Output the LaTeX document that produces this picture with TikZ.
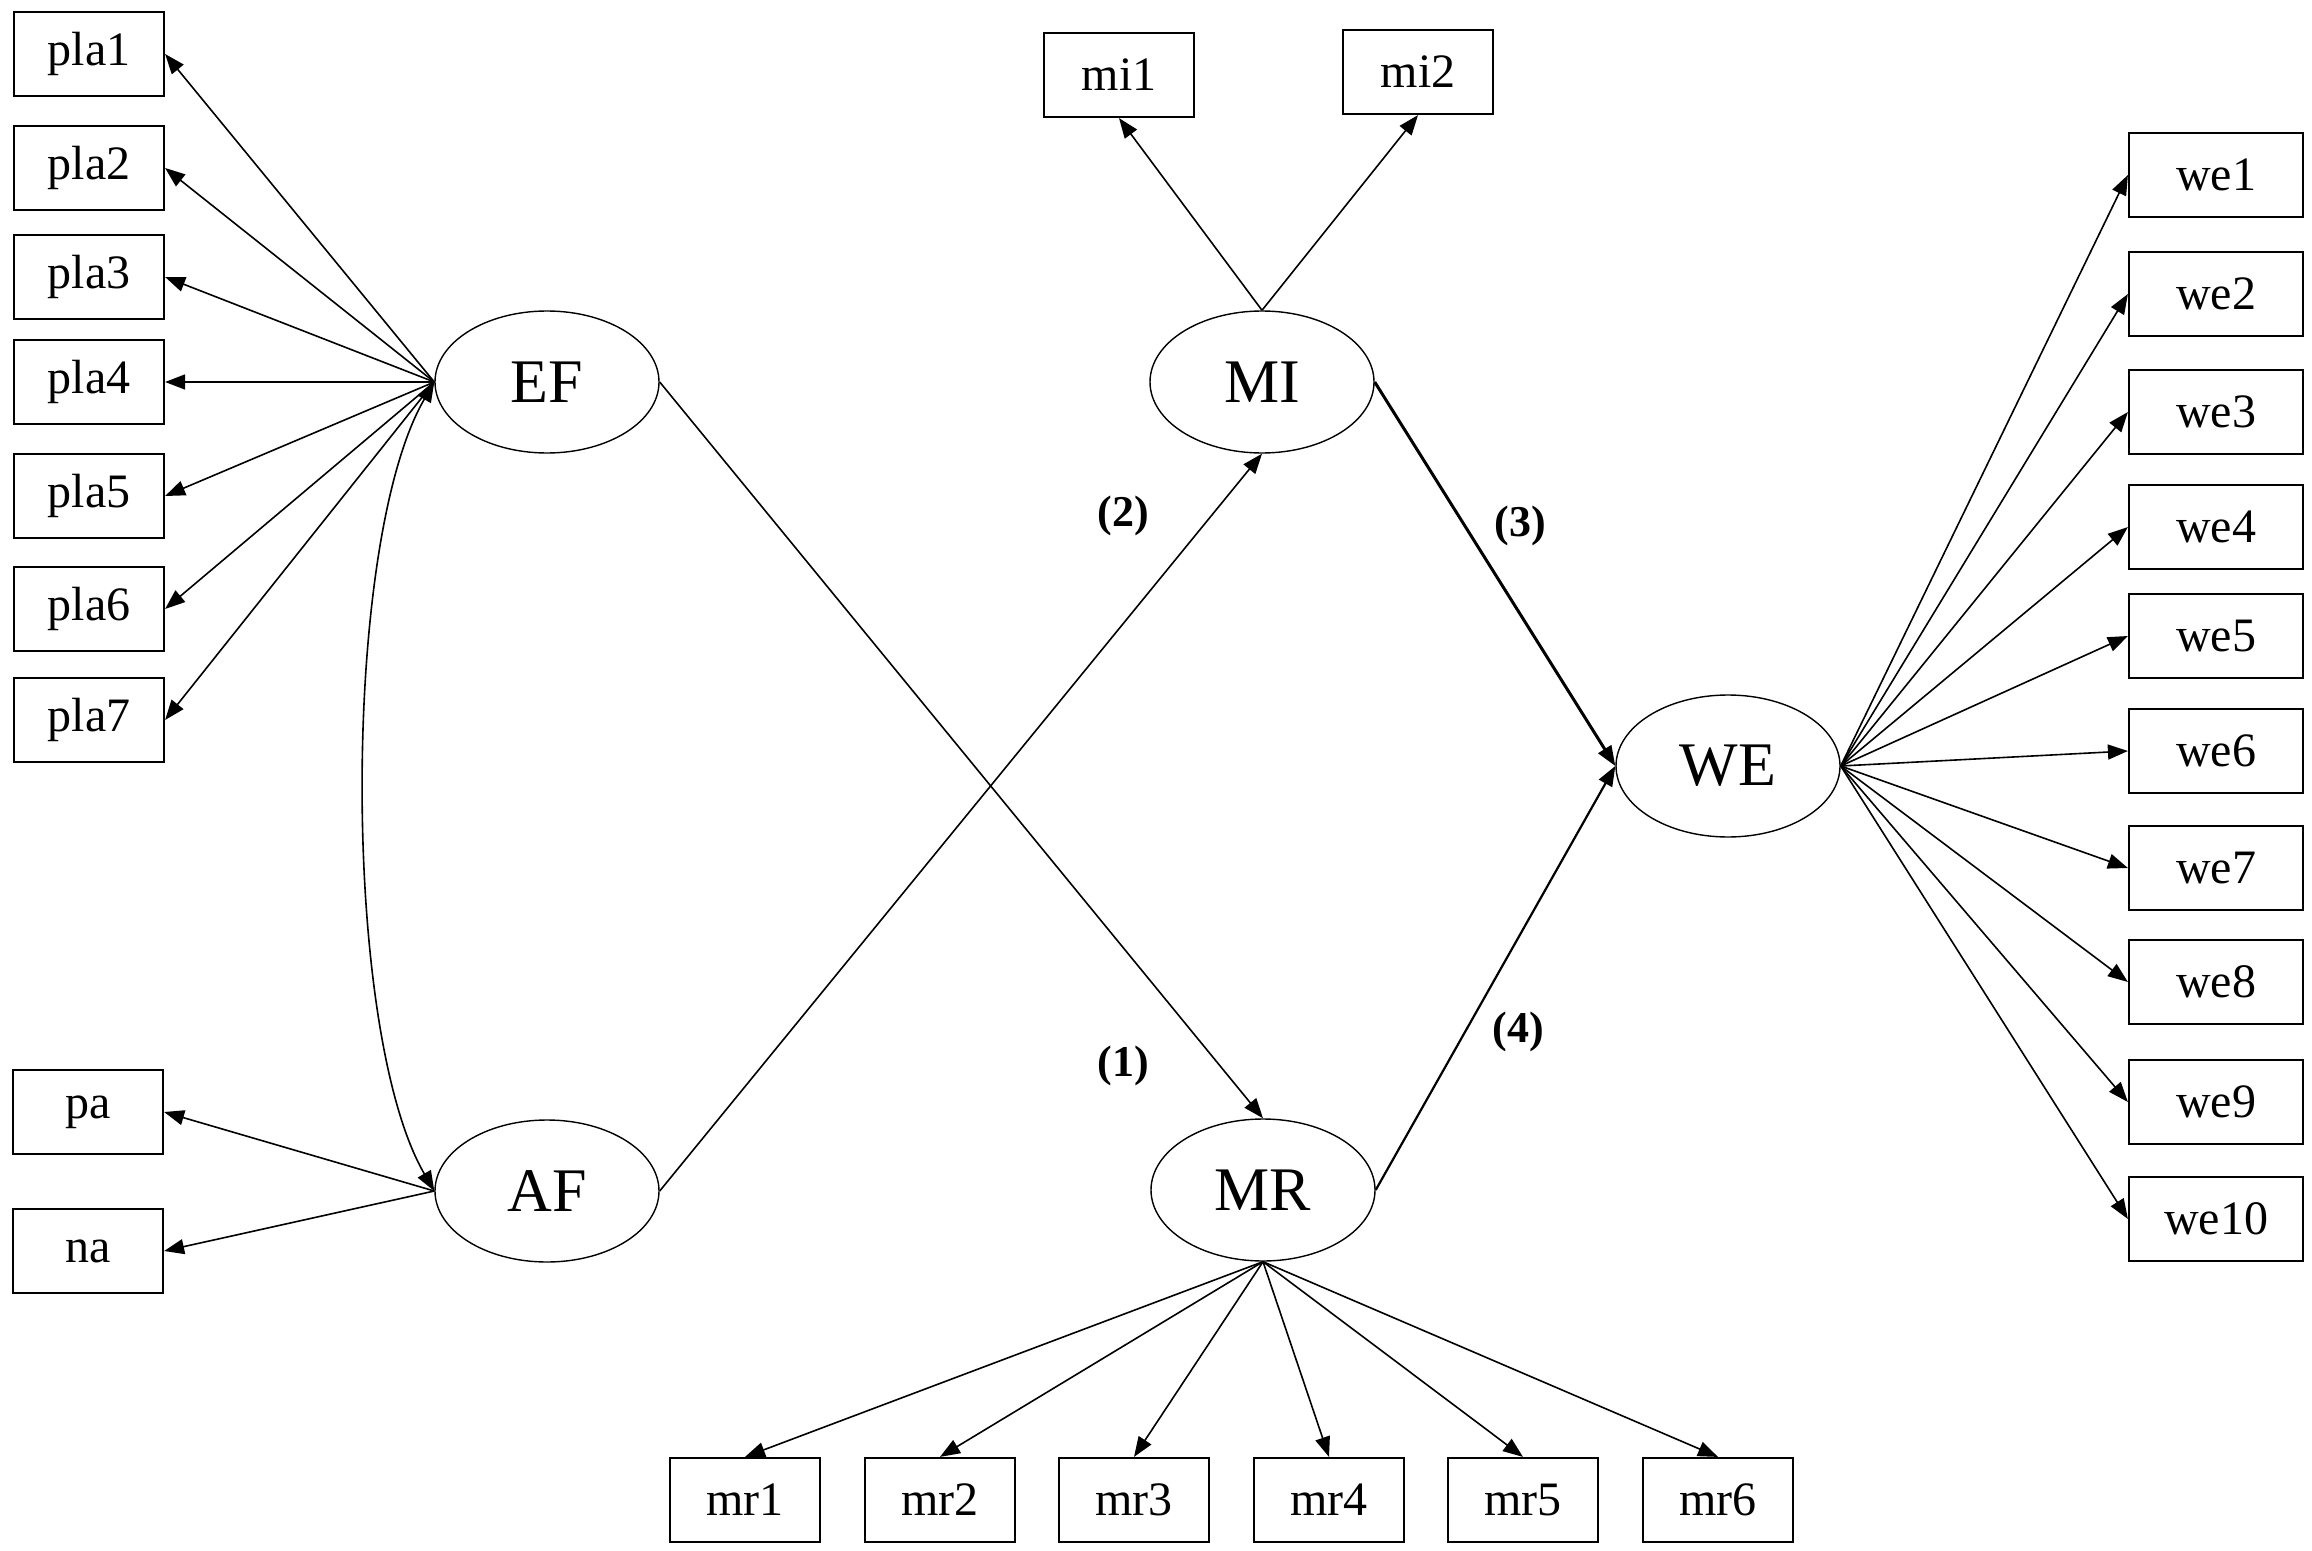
\documentclass[tikz,border=0pt]{standalone}
\usepackage{fontspec}
\setmainfont{Liberation Serif}
\usetikzlibrary{arrows.meta,shapes.geometric}
\begin{document}
\begin{tikzpicture}[x=0.5pt,y=-0.5pt,
  obs/.style={draw,line width=1.1pt,rectangle,minimum width=75pt,minimum height=42pt,inner sep=0pt,font=\fontsize{24}{26}\selectfont},
  obsw/.style={obs,minimum width=87pt},
  lat/.style={draw,line width=0.7pt,ellipse,minimum width=112pt,minimum height=71pt,inner sep=0pt,font=\fontsize{31}{33}\selectfont},
  arr/.style={line width=0.8pt,-{Triangle[length=10pt,width=7.5pt]}},
  biarr/.style={line width=0.8pt,{Triangle[length=10pt,width=7.5pt]}-{Triangle[length=10pt,width=7.5pt]}},
  lab/.style={font=\bfseries\fontsize{22}{24}\selectfont,inner sep=0pt}]
\useasboundingbox (0,0) rectangle (2312,1551);
% latent variables
\node[lat] (EF) at (547,382) {EF};
\node[lat] (AF) at (547,1191) {AF};
\node[lat] (MI) at (1262,382) {MI};
\node[lat] (MR) at (1263,1190) {MR};
\node[lat] (WE) at (1728,766) {WE};
% pla indicators
\foreach \i/\y in {1/54,2/168,3/277,4/382,5/496,6/609,7/720}
  \node[obs] (pla\i) at (89,\y) {pla\i};
\node[obs] (pa) at (88,1112) {pa};
\node[obs] (na) at (88,1251) {na};
% mi indicators
\node[obs] (mi1) at (1119,75) {mi1};
\node[obs] (mi2) at (1418,72) {mi2};
% we indicators
\foreach \i/\y in {1/175,2/294,3/412,4/527,5/636,6/751,7/868,8/982,9/1102,10/1219}
  \node[obsw] (we\i) at (2216,\y) {we\i};
% mr indicators
\foreach \i/\x in {1/745,2/940,3/1134,4/1329,5/1523,6/1718}
  \node[obs] (mr\i) at (\x,1500) {mr\i};
% loadings
\foreach \i in {1,...,7} \draw[arr] (EF.west) -- (pla\i.east);
\draw[arr] (AF.west) -- (pa.east);
\draw[arr] (AF.west) -- (na.east);
\draw[arr] (MI.north) -- (mi1.south);
\draw[arr] (MI.north) -- (mi2.south);
\foreach \i in {1,...,10} \draw[arr] (WE.east) -- (we\i.west);
\foreach \i in {1,...,6} \draw[arr] (MR.south) -- (mr\i.north);
% covariance
\draw[biarr] (EF.west) .. controls +(-93,160) and +(-93,-160) .. (AF.west);
% structural paths
\draw[arr] (EF.east) -- (MR.north);
\draw[arr] (AF.east) -- (MI.south);
\draw[arr,line width=1.5pt] (MI.east) -- (WE.west);
\draw[arr,line width=1.1pt] (MR.east) -- (WE.west);
% path labels
\node[lab] (l1) at (1123,1066) {(1)};
\node[lab] (l2) at (1123,516) {(2)};
\node[lab] (l3) at (1520,526) {(3)};
\node[lab] (l4) at (1518,1032) {(4)};
\end{tikzpicture}
\end{document}
